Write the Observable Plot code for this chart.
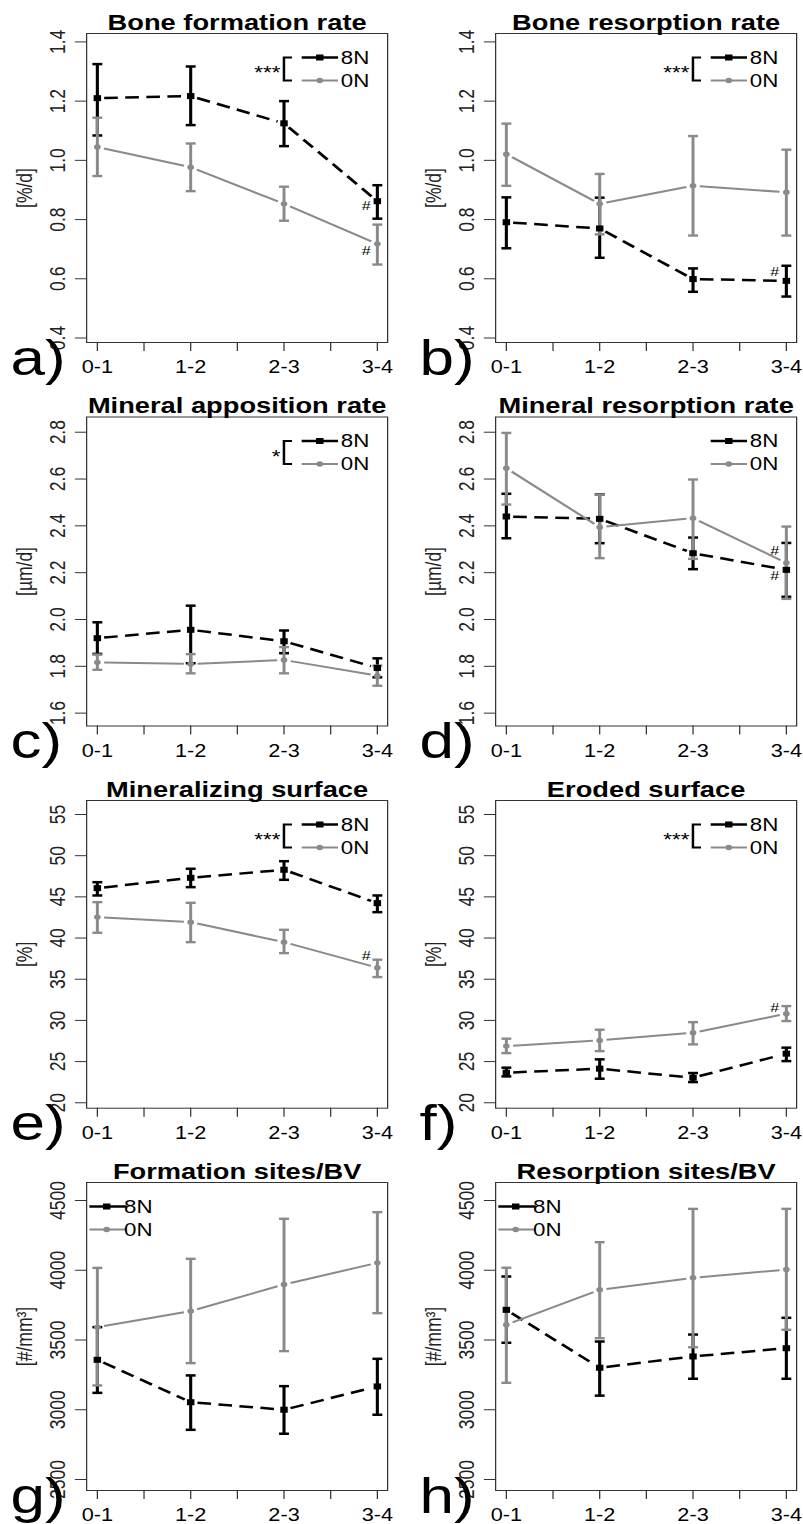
<!DOCTYPE html>
<html>
<head>
<meta charset="utf-8">
<script src="https://cdn.jsdelivr.net/npm/d3@7"></script>
<script src="https://cdn.jsdelivr.net/npm/@observablehq/plot@0.6"></script>
<style>
  html, body { margin: 0; padding: 0; background: #fff; overflow: hidden; }
  #page { position: relative; width: 803px; height: 1524px; overflow: hidden; background: #fff; }
</style>
</head>
<body>
<div id="page"></div>
<script>
// ---------------------------------------------------------------------------
// Data: age groups, and for every group [mean, lower bar end, upper bar end]
// ---------------------------------------------------------------------------
const groups = ["0-1", "1-2", "2-3", "3-4"];
const seriesNames = ["8N", "0N"];

// Bone formation rate [%/d]
const bfr8N = [[1.210, 1.084, 1.325], [1.217, 1.119, 1.317], [1.125, 1.048, 1.200], [0.862, 0.803, 0.916]];
const bfr0N = [[1.045, 0.947, 1.144], [0.977, 0.896, 1.057], [0.853, 0.796, 0.911], [0.718, 0.648, 0.783]];
// Bone resorption rate [%/d]
const brr8N = [[0.791, 0.703, 0.875], [0.770, 0.671, 0.874], [0.599, 0.556, 0.635], [0.593, 0.540, 0.644]];
const brr0N = [[1.021, 0.914, 1.124], [0.853, 0.750, 0.954], [0.914, 0.746, 1.082], [0.892, 0.746, 1.036]];
// Mineral apposition rate [µm/d]
const mar8N = [[1.920, 1.853, 1.988], [1.956, 1.813, 2.059], [1.907, 1.856, 1.953], [1.793, 1.753, 1.834]];
const mar0N = [[1.817, 1.785, 1.850], [1.810, 1.770, 1.852], [1.827, 1.770, 1.882], [1.760, 1.717, 1.803]];
// Mineral resorption rate [µm/d]
const mrr8N = [[2.440, 2.347, 2.537], [2.430, 2.326, 2.534], [2.283, 2.215, 2.350], [2.212, 2.097, 2.327]];
const mrr0N = [[2.646, 2.491, 2.797], [2.394, 2.262, 2.533], [2.433, 2.259, 2.598], [2.242, 2.088, 2.397]];
// Mineralizing surface [%]
const ms8N = [[46.06, 45.17, 46.78], [47.31, 46.18, 48.41], [48.29, 47.07, 49.33], [44.24, 43.14, 45.17]];
const ms0N = [[42.54, 40.64, 44.36], [41.93, 39.50, 44.28], [39.50, 38.17, 41.00], [36.40, 35.26, 37.37]];
// Eroded surface [%]
const es8N = [[23.65, 23.20, 24.26], [24.14, 22.92, 25.27], [23.04, 22.51, 23.61], [25.96, 25.06, 26.69]];
const es0N = [[26.88, 26.03, 27.78], [27.57, 26.27, 28.87], [28.50, 27.09, 29.79], [30.81, 29.92, 31.74]];
// Formation sites/BV [#/mm³]
const fs8N = [[3358, 3121, 3592], [3054, 2856, 3246], [3000, 2828, 3169], [3167, 2964, 3365]];
const fs0N = [[3592, 3174, 4017], [3707, 3334, 4082], [3898, 3420, 4369], [4053, 3692, 4416]];
// Resorption sites/BV [#/mm³]
const rs8N = [[3716, 3480, 3955], [3301, 3101, 3489], [3382, 3222, 3539], [3441, 3222, 3659]];
const rs0N = [[3609, 3193, 4018], [3860, 3513, 4201], [3946, 3448, 4440], [4005, 3573, 4440]];

// Y tick values
const rateTicks = [0.4, 0.6, 0.8, 1.0, 1.2, 1.4];
const mineralTicks = [1.6, 1.8, 2.0, 2.2, 2.4, 2.6, 2.8];
const surfaceTicks = [20, 25, 30, 35, 40, 45, 50, 55];
const sitesTicks = [2500, 3000, 3500, 4000, 4500];

// "#" annotations (vs. first age group): [x position, value]
const bfrHash = [[3.88, 0.845], [3.88, 0.693]];
const brrHash = [[3.875, 0.622]];
const mrrHash = [[3.875, 2.295], [3.875, 2.188]];
const msHash = [[3.88, 37.88]];
const esHash = [[3.875, 31.53]];

// ---------------------------------------------------------------------------
// Layout
// ---------------------------------------------------------------------------
const STRETCH = 1.24;                 // horizontal stretch of every panel
const BLACK = "#000";
const GRAY = "#8a8a8a";
const FONT = "Liberation Sans, Arial, Helvetica, sans-serif";
const colLeft = [0, 409];
const rowTop = [0, 381, 762, 1143];
const PANEL_H = 381;
const frameTop = [33, 416.5, 800, 1182];
const frameBottom = [342, 725.5, 1107.7, 1490];
const letterDrop = [32, 32, 32, 22];  // baseline of the panel letter below the box
const yDomains = [[0.3848, 1.4284], [1.545, 2.865], [19.34, 56.70], [2421, 4629]];
const xDomain = [0.885, 4.11];
const GAP = 5.5;                      // gap left around each point by the connecting lines
const TICK_FONT = 17.5;

const panels = [
  {letter: "a)", title: "Bone formation rate", ylabel: "[%/d]", s8: bfr8N, s0: bfr0N, ticks: rateTicks, dec: 1, sig: "***", legend: "right", hash: bfrHash, col: 0, row: 0},
  {letter: "b)", title: "Bone resorption rate", ylabel: "[%/d]", s8: brr8N, s0: brr0N, ticks: rateTicks, dec: 1, sig: "***", legend: "right", hash: brrHash, col: 1, row: 0},
  {letter: "c)", title: "Mineral apposition rate", ylabel: "[µm/d]", s8: mar8N, s0: mar0N, ticks: mineralTicks, dec: 1, sig: "*", legend: "right", hash: [], col: 0, row: 1},
  {letter: "d)", title: "Mineral resorption rate", ylabel: "[µm/d]", s8: mrr8N, s0: mrr0N, ticks: mineralTicks, dec: 1, sig: null, legend: "right", hash: mrrHash, col: 1, row: 1},
  {letter: "e)", title: "Mineralizing surface", ylabel: "[%]", s8: ms8N, s0: ms0N, ticks: surfaceTicks, dec: 0, sig: "***", legend: "right", hash: msHash, col: 0, row: 2},
  {letter: "f)", title: "Eroded surface", ylabel: "[%]", s8: es8N, s0: es0N, ticks: surfaceTicks, dec: 0, sig: "***", legend: "right", hash: esHash, col: 1, row: 2},
  {letter: "g)", title: "Formation sites/BV", ylabel: "[#/mm³]", s8: fs8N, s0: fs0N, ticks: sitesTicks, dec: 0, sig: null, legend: "left", hash: [], col: 0, row: 3},
  {letter: "h)", title: "Resorption sites/BV", ylabel: "[#/mm³]", s8: rs8N, s0: rs0N, ticks: sitesTicks, dec: 0, sig: null, legend: "left", hash: [], col: 1, row: 3}
];

// Horizontal bar used as the error-bar cap
const capSymbol = {
  draw(context, size) {
    const w = Math.sqrt(size / Math.PI);
    context.moveTo(-w, 0);
    context.lineTo(w, 0);
  }
};

function drawPanel(p) {
  const W = p.col === 0 ? 322 : 316;
  const H = PANEL_H;
  const mL = 86 / STRETCH;
  const mR = W - 387 / STRETCH;
  const mT = frameTop[p.row] - rowTop[p.row];
  const mB = rowTop[p.row] + H - frameBottom[p.row];
  const yDomain = yDomains[p.row];
  const kx = (W - mL - mR) / (xDomain[1] - xDomain[0]);
  const ky = (H - mT - mB) / (yDomain[1] - yDomain[0]);

  const rows = (s, name) => s.map(([mean, lo, hi], i) => ({x: i + 1, mean, lo, hi, name}));
  const r8 = rows(p.s8, seriesNames[0]);
  const r0 = rows(p.s0, seriesNames[1]);

  // connecting segments, shortened at both ends so they stop short of the points
  const segs = r => d3.pairs(r).map(([a, b]) => {
    const dx = (b.x - a.x) * kx, dy = (b.mean - a.mean) * ky;
    const t = GAP / Math.hypot(dx, dy);
    return {
      x1: a.x + (b.x - a.x) * t, y1: a.mean + (b.mean - a.mean) * t,
      x2: b.x - (b.x - a.x) * t, y2: b.mean - (b.mean - a.mean) * t
    };
  });

  const errorBars = (r, color, sw) => [
    Plot.ruleX(r, {x: "x", y1: "lo", y2: "hi", stroke: color, strokeWidth: sw}),
    Plot.dot(r, {x: "x", y: "lo", symbol: capSymbol, r: 4, stroke: color, strokeWidth: sw, fill: "none"}),
    Plot.dot(r, {x: "x", y: "hi", symbol: capSymbol, r: 4, stroke: color, strokeWidth: sw, fill: "none"})
  ];

  const svg = Plot.plot({
    width: W,
    height: H,
    marginLeft: mL,
    marginRight: mR,
    marginTop: mT,
    marginBottom: mB,
    style: {fontFamily: FONT, background: "transparent", overflow: "visible"},
    x: {domain: xDomain, axis: null},
    y: {domain: yDomain, axis: null},
    marks: [
      // axes (tick marks only) and the box
      Plot.axisX({ticks: [1, 1.5, 2, 2.5, 3, 3.5, 4], tickSize: 9, tickFormat: () => "", label: null, stroke: "#333"}),
      Plot.axisY({ticks: p.ticks, tickSize: 9, tickFormat: () => "", label: null, stroke: "#333"}),
      Plot.frame({stroke: "#333", strokeWidth: 1}),
      // tick labels
      Plot.text(groups.map((g, i) => ({x: i + 1, g})), {x: "x", text: "g", frameAnchor: "bottom", dy: 25, lineAnchor: "middle", fontSize: TICK_FONT, fill: BLACK}),
      Plot.text(p.ticks, {y: d => d, text: d => d.toFixed(p.dec), frameAnchor: "left", dx: -(86 - 57) / STRETCH, rotate: -90, textAnchor: "middle", lineAnchor: "middle", fontSize: TICK_FONT, fill: "#222"}),
      // axis label, title and panel letter
      Plot.text([p.ylabel], {frameAnchor: "left", dx: -(86 - 24) / STRETCH, rotate: -90, textAnchor: "middle", lineAnchor: "middle", fontSize: 17.5, fill: "#222"}),
      Plot.text([p.title], {frameAnchor: "top", dy: -4, lineAnchor: "bottom", fontSize: 22, fontWeight: "bold", fill: BLACK}),
      Plot.text([p.letter], {frameAnchor: "bottom-left", dx: 8 - mL, dy: letterDrop[p.row], textAnchor: "start", lineAnchor: "bottom", fontSize: 50, fill: BLACK}),
      // error bars
      ...errorBars(r8, BLACK, 2.5),
      ...errorBars(r0, GRAY, 2.4),
      // connecting lines
      Plot.link(segs(r8), {x1: "x1", y1: "y1", x2: "x2", y2: "y2", stroke: BLACK, strokeWidth: 2.5, strokeDasharray: "11,6"}),
      Plot.link(segs(r0), {x1: "x1", y1: "y1", x2: "x2", y2: "y2", stroke: GRAY, strokeWidth: 2}),
      // points
      Plot.dot(r8, {x: "x", y: "mean", symbol: "square", r: 3.4, fill: BLACK}),
      Plot.dot(r0, {x: "x", y: "mean", r: 2.7, fill: GRAY}),
      // "#" annotations
      Plot.text(p.hash, {x: d => d[0], y: d => d[1], text: () => "#", fontSize: 13, lineAnchor: "middle", fill: BLACK})
    ]
  });

  // legend (with significance bracket)
  const g = d3.select(svg).append("g").attr("font-family", FONT);
  const R = W - mR, L = mL;
  const ya = mT + 24.5, yb = mT + 47.5;
  let xa, xb, xm, xt;
  if (p.legend === "right") { xa = R - 68.8; xb = R - 39.5; xm = R - 54.2; xt = R - 25.8; }
  else { xa = L + 2.7; xb = L + 32.8; xm = L + 16.7; xt = L + 42.2; }
  g.append("line").attr("x1", xa).attr("x2", xb).attr("y1", ya).attr("y2", ya).attr("stroke", BLACK).attr("stroke-width", 2.5);
  g.append("rect").attr("x", xm - 3).attr("y", ya - 3).attr("width", 6).attr("height", 6).attr("fill", BLACK);
  g.append("text").attr("x", xt).attr("y", ya).attr("dy", "0.35em").attr("font-size", 18).text(seriesNames[0]);
  g.append("line").attr("x1", xa).attr("x2", xb).attr("y1", yb).attr("y2", yb).attr("stroke", GRAY).attr("stroke-width", 2);
  g.append("circle").attr("cx", xm).attr("cy", yb).attr("r", 2.7).attr("fill", GRAY);
  g.append("text").attr("x", xt).attr("y", yb).attr("dy", "0.35em").attr("font-size", 18).text(seriesNames[1]);
  if (p.sig) {
    g.append("path")
      .attr("d", `M${R - 76.6},${ya}H${R - 83.1}V${yb}H${R - 76.6}`)
      .attr("fill", "none").attr("stroke", BLACK).attr("stroke-width", 2);
    g.append("text").attr("x", R - 86).attr("y", (ya + yb) / 2 + 10.3)
      .attr("text-anchor", "end").attr("font-size", 18).text(p.sig);
  }

  svg.style.position = "absolute";
  svg.style.left = colLeft[p.col] + "px";
  svg.style.top = rowTop[p.row] + "px";
  svg.style.maxWidth = "none";
  svg.style.transformOrigin = "0 0";
  svg.style.transform = `scaleX(${STRETCH})`;
  svg.style.overflow = "visible";
  svg.style.background = "transparent";
  return svg;
}

const page = document.getElementById("page");
for (const p of panels) page.appendChild(drawPanel(p));
</script>
</body>
</html>
